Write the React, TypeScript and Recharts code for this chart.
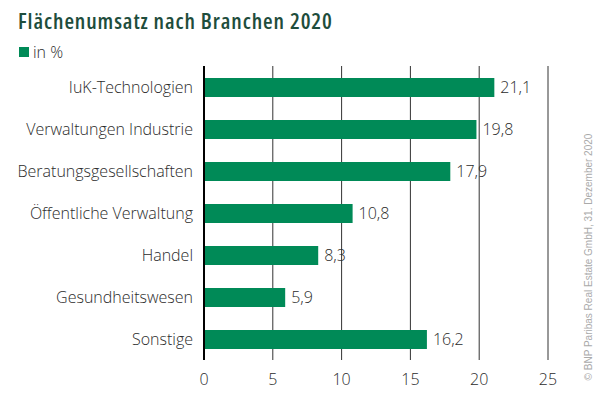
import React from "react";
import { BarChart, Bar, XAxis, YAxis, CartesianGrid, LabelList } from "recharts";

const categories = [
  "IuK-Technologien",
  "Verwaltungen Industrie",
  "Beratungsgesellschaften",
  "Öffentliche Verwaltung",
  "Handel",
  "Gesundheitswesen",
  "Sonstige",
];
const values = [21.1, 19.8, 17.9, 10.8, 8.3, 5.9, 16.2];
const xTicks = [0, 5, 10, 15, 20, 25];

const data = categories.map((c, i) => ({ name: c, value: values[i] }));

const FONT = "'Open Sans', sans-serif";
const GREEN = "#008a57";
const TXT = { fill: "#2b2b2b", fontSize: 16, fontFamily: FONT, fontStretch: "91%", fontWeight: 350 } as any;

export default function App() {
  return (
    <div
      style={{
        position: "absolute",
        left: 0,
        top: 0,
        width: 600,
        height: 397,
        background: "#fff",
        fontFamily: FONT,
        overflow: "hidden",
      }}
    >
      <div
        style={{
          position: "absolute",
          left: 18,
          top: 5,
          fontSize: 22,
          fontWeight: 600,
          fontStretch: "80%",
          letterSpacing: 0.9,
          color: "#1e4d3c",
          whiteSpace: "nowrap",
        }}
      >
        Flächenumsatz nach Branchen 2020
      </div>
      <div
        style={{
          position: "absolute",
          left: 19,
          top: 41,
          fontSize: 16,
          fontWeight: 350,
          fontStretch: "91%",
          color: "#2b2b2b",
          display: "flex",
          alignItems: "center",
        }}
      >
        <span style={{ display: "inline-block", width: 10, height: 10, background: GREEN, marginRight: 4 }} />
        in %
      </div>
      <div
        style={{
          position: "absolute",
          left: 588,
          top: 257,
          transform: "translate(-50%, -50%) rotate(-90deg)",
          fontSize: 10,
          color: "#aaa",
          whiteSpace: "nowrap",
          fontFamily: "'Liberation Sans', sans-serif",
        }}
      >
        © BNP Paribas Real Estate GmbH, 31. Dezember 2020
      </div>
      <div style={{ position: "absolute", left: 0, top: 0 }}>
        <BarChart
          width={600}
          height={397}
          data={data}
          layout="vertical"
          margin={{ top: 66, right: 52, bottom: 7, left: 0 }}
          barCategoryGap={23}
        >
          <CartesianGrid horizontal={false} vertical={true} stroke="#333" strokeWidth={1} />
          <XAxis
            type="number"
            domain={[0, 25]}
            ticks={xTicks}
            axisLine={false}
            tickLine={false}
            height={30}
            tickMargin={8}
            tick={TXT}
          />
          <YAxis
            type="category"
            dataKey="name"
            width={204}
            axisLine={{ stroke: "#000", strokeWidth: 2 }}
            tickLine={false}
            tickMargin={5}
            tick={TXT}
          />
          <Bar dataKey="value" fill={GREEN} barSize={19} isAnimationActive={false}>
            <LabelList
              dataKey="value"
              position="right"
              offset={6}
              formatter={(v: number) => v.toFixed(1).replace(".", ",")}
              style={TXT}
            />
          </Bar>
        </BarChart>
      </div>
    </div>
  );
}
